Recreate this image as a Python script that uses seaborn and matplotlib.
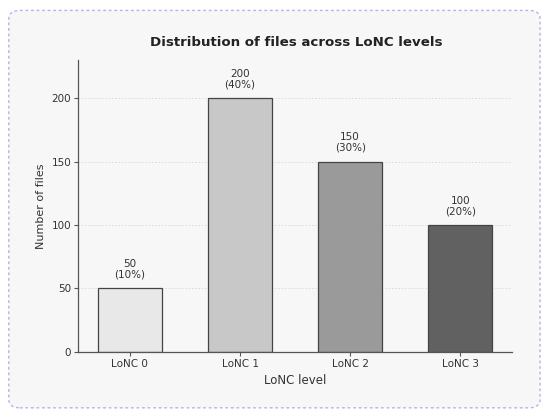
import matplotlib
matplotlib.use("Agg")
import matplotlib.pyplot as plt
from matplotlib.patches import FancyBboxPatch
import pandas as pd
import seaborn as sns

levels = ["LoNC 0", "LoNC 1", "LoNC 2", "LoNC 3"]
counts = [50, 200, 150, 100]
shares = [10, 40, 30, 20]
bar_colors = ["#e8e8e8", "#c8c8c8", "#9a9a9a", "#616161"]

sns.set_style("white")
plt.rcParams["font.family"] = ["DejaVu Sans"]

df = pd.DataFrame({"level": levels, "count": counts})

fig = plt.figure(figsize=(5.5, 4.17), dpi=100)
fig.patch.set_facecolor("white")

# dashed rounded frame around the whole chart
frame = FancyBboxPatch((0.016, 0.022), 0.966, 0.953, transform=fig.transFigure,
                       boxstyle="round,pad=0,rounding_size=0.02",
                       facecolor="#f7f7f7", edgecolor="#b9aef0",
                       linestyle=(0, (2, 2)), linewidth=1.0, zorder=-5)
fig.patches.append(frame)

ax = fig.add_axes([0.142, 0.156, 0.789, 0.70])
ax.set_zorder(2)
ax.set_facecolor("#f7f7f7")
sns.barplot(data=df, x="level", y="count", hue="level", palette=bar_colors,
            width=0.58, edgecolor="#444444", linewidth=0.9, legend=False,
            saturation=1, ax=ax)

for i, (c, s) in enumerate(zip(counts, shares)):
    ax.text(i, c + 7, f"{c}\n({s}%)", ha="center", va="bottom",
            fontsize=7.5, color="#333333", linespacing=1.05)

ax.set_ylim(0, 230)
ax.set_xlim(-0.47, 3.47)
ax.set_yticks([0, 50, 100, 150, 200])
ax.yaxis.grid(True, linestyle=(0, (2, 2)), color="#d8d8d8", linewidth=0.6)
ax.set_axisbelow(True)
for side in ["top", "right"]:
    ax.spines[side].set_visible(False)
for side in ["left", "bottom"]:
    ax.spines[side].set_color("#555555")
    ax.spines[side].set_linewidth(0.9)
ax.tick_params(axis="both", labelsize=7.5, colors="#333333", length=3,
               width=0.8, pad=2, bottom=True, left=True)
ax.tick_params(axis="both", color="#555555")
ax.set_xlabel("LoNC level", fontsize=8.5, color="#333333", labelpad=4)
ax.set_ylabel("Number of files", fontsize=8, color="#333333", labelpad=4)
fig.text(0.538, 0.897, "Distribution of files across LoNC levels",
         ha="center", va="center", fontsize=9.6, fontweight="bold",
         color="#222222", zorder=3)

fig.savefig("out.png", dpi=100, facecolor="white")
